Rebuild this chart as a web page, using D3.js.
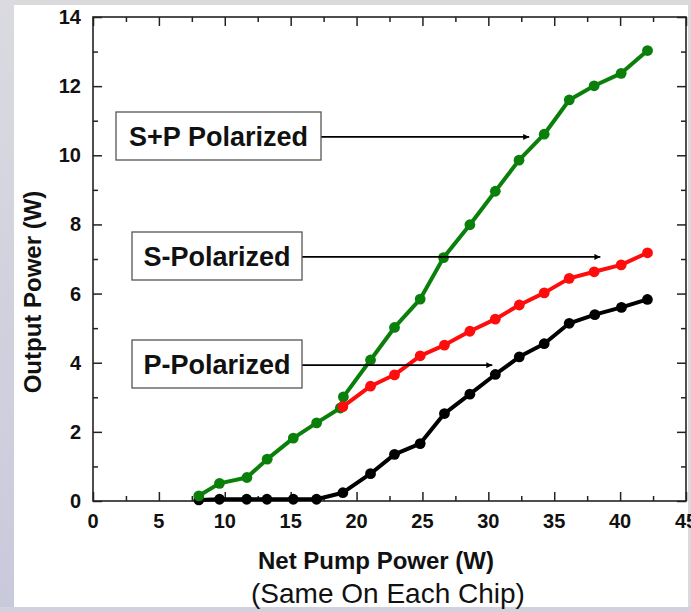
<!DOCTYPE html>
<html>
<head>
<meta charset="utf-8">
<script src="https://cdn.jsdelivr.net/npm/d3@7"></script>
<style>
  html, body { margin: 0; padding: 0; background: #d9d9de; }
  svg { display: block; }
</style>
</head>
<body>
<svg id="chart" width="691" height="612"></svg>
<script>
// Net pump power (W) and output power (W) for each polarization
const spX = [8.03, 9.6, 11.68, 13.22, 15.2, 16.97, 18.77, 19.0, 21.06, 22.88, 24.83, 26.6, 28.6, 30.53, 32.33, 34.24, 36.14, 38.03, 40.08, 42.08];
const spY = [0.15, 0.51, 0.68, 1.21, 1.82, 2.26, 2.69, 3.01, 4.08, 5.02, 5.84, 7.04, 7.99, 8.96, 9.86, 10.61, 11.6, 12.01, 12.37, 13.03];

const sX = [18.96, 21.06, 22.88, 24.83, 26.67, 28.6, 30.53, 32.35, 34.24, 36.14, 38.03, 40.08, 42.08];
const sY = [2.73, 3.32, 3.65, 4.2, 4.51, 4.91, 5.26, 5.67, 6.02, 6.44, 6.63, 6.83, 7.18];

const pX = [8.03, 9.6, 11.66, 13.2, 15.2, 16.96, 18.96, 21.06, 22.88, 24.83, 26.67, 28.6, 30.53, 32.35, 34.24, 36.14, 38.08, 40.1, 42.07];
const pY = [0.03, 0.05, 0.05, 0.05, 0.05, 0.05, 0.24, 0.79, 1.35, 1.66, 2.53, 3.09, 3.66, 4.17, 4.55, 5.14, 5.39, 5.6, 5.83];

const xTicks = [0, 5, 10, 15, 20, 25, 30, 35, 40, 45];
const yTicks = [0, 2, 4, 6, 8, 10, 12, 14];

// Callout labels: text and the point (x, y) each arrow points to
const calloutText = ["S+P Polarized", "S-Polarized", "P-Polarized"];
const calloutTipX = [33.1, 38.5, 30.3];
const calloutTipY = [10.53, 7.06, 3.93];

const svg = d3.select("#chart");
const W = 691, H = 612;

// Slide-style frame around the white panel
const defs = svg.append("defs");
const grad = defs.append("linearGradient").attr("id", "leftBand")
  .attr("x1", 0).attr("y1", 0).attr("x2", 0).attr("y2", 1);
grad.append("stop").attr("offset", "0%").attr("stop-color", "#dadae0");
grad.append("stop").attr("offset", "100%").attr("stop-color", "#c9c9dc");
svg.append("rect").attr("x", 0).attr("y", 0).attr("width", W).attr("height", H).attr("fill", "#dadadc");
svg.append("rect").attr("x", 0).attr("y", 0).attr("width", 14).attr("height", H).attr("fill", "url(#leftBand)");
svg.append("rect").attr("x", 0).attr("y", 607).attr("width", W).attr("height", 5).attr("fill", "#d2d2de");
svg.append("rect").attr("x", 14).attr("y", 5).attr("width", 674).attr("height", 602).attr("fill", "#ffffff");

const x = d3.scaleLinear().domain([0, 45]).range([93, 686]);
const y = d3.scaleLinear().domain([0, 14]).range([501, 17]);

const axisColor = "#222";
const g = svg.append("g");

// Inward ticks on all four sides, majors and minors
function tickAxis(axisGen, tf, values, len) {
  const a = g.append("g").attr("transform", tf)
    .call(axisGen.tickValues(values).tickSize(len).tickFormat(""));
  a.select(".domain").remove();
  a.selectAll("line").attr("stroke", axisColor).attr("stroke-width", 1.5);
}
const xMinor = d3.range(2.5, 45, 5);
const yMinor = d3.range(1, 14, 2);
tickAxis(d3.axisTop(x), `translate(0,${y(0)})`, xTicks, 9);
tickAxis(d3.axisTop(x), `translate(0,${y(0)})`, xMinor, 5);
tickAxis(d3.axisBottom(x), `translate(0,${y(14)})`, xTicks, 9);
tickAxis(d3.axisBottom(x), `translate(0,${y(14)})`, xMinor, 5);
tickAxis(d3.axisRight(y), `translate(${x(0)},0)`, yTicks, 9);
tickAxis(d3.axisRight(y), `translate(${x(0)},0)`, yMinor, 5);
tickAxis(d3.axisLeft(y), `translate(${x(45)},0)`, yTicks, 9);
tickAxis(d3.axisLeft(y), `translate(${x(45)},0)`, yMinor, 5);

// Frame
g.append("rect").attr("x", x(0)).attr("y", y(14))
  .attr("width", x(45) - x(0)).attr("height", y(0) - y(14))
  .attr("fill", "none").attr("stroke", axisColor).attr("stroke-width", 1.6);

// Tick labels
const labelFont = "'Liberation Sans', Arial, sans-serif";
g.selectAll(".xl").data(xTicks).join("text")
  .attr("x", d => x(d)).attr("y", 528)
  .attr("text-anchor", "middle")
  .attr("font-family", labelFont).attr("font-weight", "bold").attr("font-size", 20)
  .attr("fill", "#111").text(d => d);
g.selectAll(".yl").data(yTicks).join("text")
  .attr("x", 81).attr("y", d => y(d) + 7)
  .attr("text-anchor", "end")
  .attr("font-family", labelFont).attr("font-weight", "bold").attr("font-size", 20)
  .attr("fill", "#111").text(d => d);

// Axis titles
svg.append("text").attr("transform", "translate(41,292) rotate(-90)")
  .attr("text-anchor", "middle")
  .attr("font-family", labelFont).attr("font-weight", "bold").attr("font-size", 24)
  .attr("fill", "#111").text("Output Power (W)");
svg.append("text").attr("x", 376).attr("y", 569)
  .attr("text-anchor", "middle")
  .attr("font-family", labelFont).attr("font-weight", "bold").attr("font-size", 24)
  .attr("fill", "#111").text("Net Pump Power (W)");
svg.append("text").attr("x", 388).attr("y", 603)
  .attr("text-anchor", "middle")
  .attr("font-family", labelFont).attr("font-size", 28)
  .attr("fill", "#111").text("(Same On Each Chip)");

// Series
const line = d3.line().x(d => x(d[0])).y(d => y(d[1]));
function drawSeries(xs, ys, color) {
  const pts = xs.map((v, i) => [v, ys[i]]);
  const s = g.append("g");
  s.append("path").datum(pts).attr("d", line)
    .attr("fill", "none").attr("stroke", color).attr("stroke-width", 4)
    .attr("stroke-linejoin", "round");
  s.selectAll("circle").data(pts).join("circle")
    .attr("cx", d => x(d[0])).attr("cy", d => y(d[1])).attr("r", 5.4)
    .attr("fill", color);
}
drawSeries(pX, pY, "#000000");
drawSeries(spX, spY, "#0a800a");
drawSeries(sX, sY, "#ff0d0d");

// Callouts: boxed label with an arrow to its curve
defs.append("marker").attr("id", "arrowHead")
  .attr("viewBox", "0 0 10 10").attr("refX", 10).attr("refY", 5)
  .attr("markerWidth", 10).attr("markerHeight", 6).attr("markerUnits", "userSpaceOnUse")
  .attr("orient", "auto")
  .append("path").attr("d", "M0,0 L10,5 L0,10 Z").attr("fill", "#000");

const boxes = [
  { x0: 116, x1: 321, y0: 112, y1: 160 },
  { x0: 132, x1: 302, y0: 232, y1: 280 },
  { x0: 132, x1: 302, y0: 340, y1: 388 }
];
calloutText.forEach((t, i) => {
  const b = boxes[i];
  const cy = y(calloutTipY[i]);
  g.append("line").attr("x1", b.x1).attr("y1", cy)
    .attr("x2", x(calloutTipX[i])).attr("y2", cy)
    .attr("stroke", "#000").attr("stroke-width", 1.8)
    .attr("marker-end", "url(#arrowHead)");
  g.append("rect").attr("x", b.x0).attr("y", b.y0)
    .attr("width", b.x1 - b.x0).attr("height", b.y1 - b.y0)
    .attr("fill", "#fff").attr("stroke", "#555").attr("stroke-width", 1.3);
  g.append("text").attr("x", (b.x0 + b.x1) / 2).attr("y", (b.y0 + b.y1) / 2 + 9.5)
    .attr("text-anchor", "middle")
    .attr("font-family", labelFont).attr("font-weight", "bold").attr("font-size", 27)
    .attr("fill", "#111").text(t);
});
</script>
</body>
</html>
